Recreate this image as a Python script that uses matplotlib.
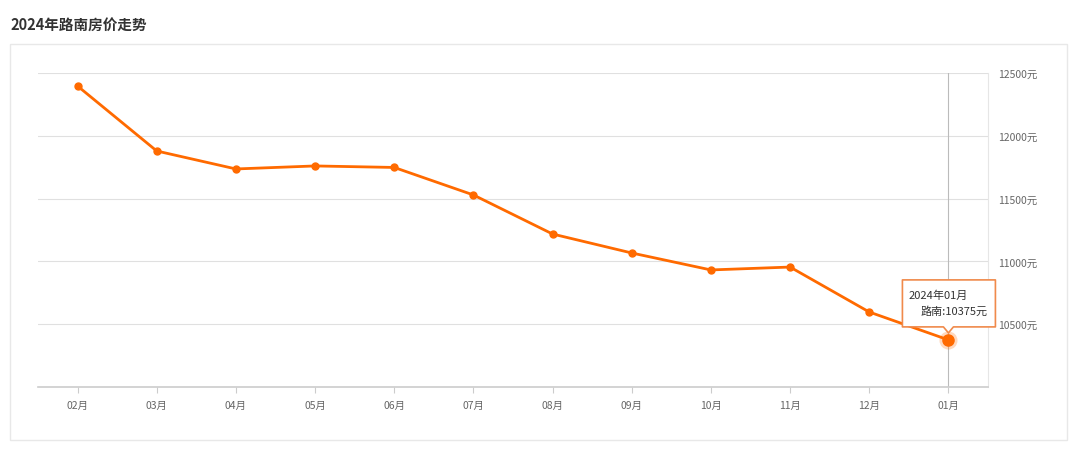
import matplotlib
matplotlib.use("Agg")
import matplotlib.pyplot as plt
import matplotlib.transforms as mtrans
from matplotlib.patches import Rectangle, Polygon

plt.rcParams['font.family'] = ['Noto Sans CJK SC', 'DejaVu Sans']

title = "2024年路南房价走势"
months = ["02月", "03月", "04月", "05月", "06月", "07月", "08月", "09月", "10月", "11月", "12月", "01月"]
prices = [12396, 11879, 11736, 11760, 11748, 11529, 11218, 11067, 10932, 10955, 10597, 10375]
yticks = [10500, 11000, 11500, 12000, 12500]
series_name = "路南"
tip_title = "2024年01月"

W, H = 1080, 452
fig = plt.figure(figsize=(W / 100, H / 100), dpi=100)
fig.patch.set_facecolor("white")

# outer panel border
fig.patches.append(Rectangle((10 / W, 1 - 441 / H), (1067 - 10) / W, (441 - 45) / H,
                             transform=fig.transFigure, fill=False, edgecolor="#e8e8e8", lw=1))
fig.text(10 / W, 1 - 25 / H, title, fontsize=10.5, fontweight="bold", color="#333333",
         ha="left", va="center")

ax = fig.add_axes([38 / W, 1 - 388 / H, (988 - 38) / W, (388 - 74) / H])
n = len(months)
x = list(range(n))
ax.set_xlim(-0.5, n - 0.5)
ax.set_ylim(10000, 12500)

for s in ["left", "top"]:
    ax.spines[s].set_visible(False)
ax.spines["right"].set_color("#e6e6e6")
ax.spines["bottom"].set_color("#cccccc")
ax.spines["bottom"].set_linewidth(1.2)

for yv in yticks:
    ax.axhline(yv, color="#e0e0e0", lw=0.8, zorder=0)

ax.yaxis.tick_right()
ax.set_yticks(yticks)
ax.set_yticklabels([f"{v}元" for v in yticks])
ax.tick_params(axis="y", length=0, pad=7, labelsize=7.5, labelcolor="#666666")
ax.set_xticks(x)
ax.set_xticklabels(months)
ax.tick_params(axis="x", length=4, color="#cccccc", pad=5, labelsize=7.5, labelcolor="#666666")

color = "#ff6a00"
# crosshair
ax.axvline(x[-1], color="#bbbbbb", lw=0.8, zorder=1)
ax.plot(x, prices, color=color, lw=2.0, marker="o", ms=5, zorder=3)
ax.plot([x[-1]], [prices[-1]], "o", ms=13, color=color, alpha=0.25, mec="none", zorder=4)
ax.plot([x[-1]], [prices[-1]], "o", ms=8, color=color, zorder=5)

# tooltip (pixel offsets from the hovered point)
trans = fig.dpi_scale_trans + mtrans.ScaledTranslation(x[-1], prices[-1], ax.transData)
def px(dx, dy):
    return (dx / 100, dy / 100)
left, right, top, bottom = -46, 47, 60, 13
verts = [px(left, bottom), px(-5, bottom), px(0, 7), px(5, bottom), px(right, bottom),
         px(right, top), px(left, top)]
tip = Polygon(verts, closed=True, transform=trans, facecolor="white", edgecolor="#f08a4b",
              lw=1.2, zorder=6, clip_on=False, joinstyle="round")
ax.add_patch(tip)
ax.text(*px(left + 6, 45), tip_title, transform=trans, fontsize=8, color="#333333",
        ha="left", va="center", zorder=7)
ax.text(*px(right - 8, 29), f"{series_name}:{prices[-1]}元", transform=trans, fontsize=8,
        color="#333333", ha="right", va="center", zorder=7)

fig.savefig("out.png", dpi=100, facecolor="white")
